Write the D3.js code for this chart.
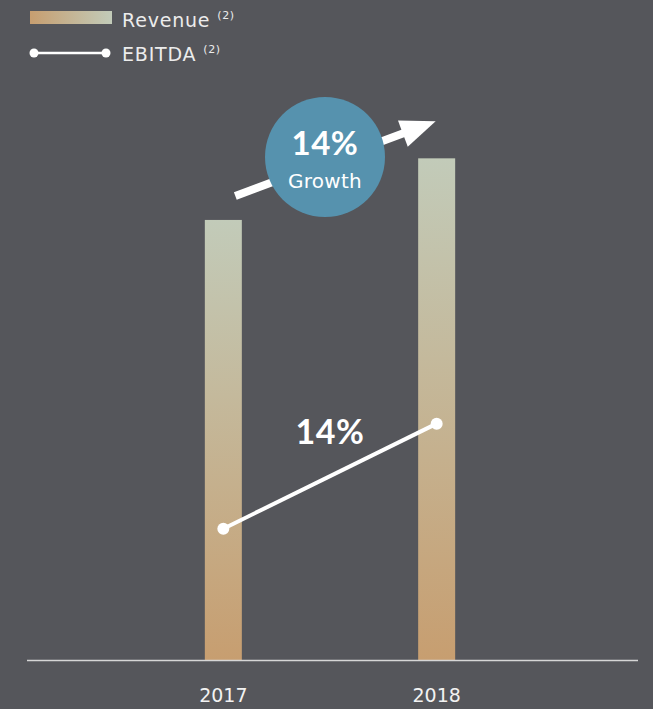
<!DOCTYPE html>
<html>
<head>
<meta charset="utf-8">
<script src="https://cdn.jsdelivr.net/npm/d3@7"></script>
<style>
  html, body { margin: 0; padding: 0; background: #55565b; }
  svg { display: block; }
  text { font-family: "DejaVu Sans", sans-serif; }
  text.big { font-family: "Lato", "DejaVu Sans", sans-serif; font-weight: bold; }
</style>
</head>
<body>
<div id="chart"></div>
<script>
// Revenue vs EBITDA, 2017-2018 (indexed values, 2017 = 100)

var years = ["2017", "2018"];
var revenue = [100, 114];
var ebitda = [100, 114];
var growthLabel = "14%";
var growthSub = "Growth";
var ebitdaLabel = "14%";

var W = 653, H = 709;
var margin = { top: 80, left: 27, right: 15, bottom: 49 };
var height = H - margin.top - margin.bottom;   // baseline at 660

var svg = d3.select("#chart").append("svg")
    .attr("width", W)
    .attr("height", H);

// gradients
var defs = svg.append("defs");
var vg = defs.append("linearGradient")
    .attr("id", "barGrad")
    .attr("x1", 0).attr("y1", 0).attr("x2", 0).attr("y2", 1);
vg.append("stop").attr("offset", "0%").attr("stop-color", "#c2cbb9");
vg.append("stop").attr("offset", "100%").attr("stop-color", "#c79e70");

var hg = defs.append("linearGradient")
    .attr("id", "legGrad")
    .attr("x1", 0).attr("y1", 0).attr("x2", 1).attr("y2", 0);
hg.append("stop").attr("offset", "0%").attr("stop-color", "#c79e70");
hg.append("stop").attr("offset", "100%").attr("stop-color", "#c2cbb9");

var x = d3.scalePoint()
    .domain(years)
    .range([10, 650])
    .padding(1);

var barW = 37;

var y = d3.scaleLinear()
    .domain([0, 131.8])
    .range([margin.top + height, margin.top]);

// EBITDA on its own axis
var y2 = d3.scaleLinear()
    .domain([82.5, 159.8])
    .range([margin.top + height, margin.top]);

// bars
svg.selectAll(".bar")
  .data(revenue)
  .enter().append("rect")
    .attr("class", "bar")
    .attr("x", function(d, i) { return x(years[i]) - barW / 2; })
    .attr("y", function(d) { return y(d); })
    .attr("width", barW)
    .attr("height", function(d) { return y(0) - y(d); })
    .style("fill", "url(#barGrad)");

// baseline
svg.append("line")
    .attr("x1", 27).attr("x2", 638)
    .attr("y1", y(0) + 0.5).attr("y2", y(0) + 0.5)
    .attr("stroke", "#d6d6d6")
    .attr("stroke-width", 1.5);

// x labels
svg.selectAll(".xlab")
  .data(years)
  .enter().append("text")
    .attr("class", "xlab")
    .attr("x", function(d) { return x(d); })
    .attr("y", 702)
    .attr("text-anchor", "middle")
    .style("font-size", "19px")
    .style("fill", "#f2f2f2")
    .text(function(d) { return d; });

// EBITDA line
var line = d3.line()
    .x(function(d, i) { return x(years[i]); })
    .y(function(d) { return y2(d); });

svg.append("path")
    .datum(ebitda)
    .attr("d", line)
    .attr("fill", "none")
    .attr("stroke", "#ffffff")
    .attr("stroke-width", 4);

svg.selectAll(".dot")
  .data(ebitda)
  .enter().append("circle")
    .attr("cx", function(d, i) { return x(years[i]); })
    .attr("cy", function(d) { return y2(d); })
    .attr("r", 6)
    .style("fill", "#ffffff");

svg.append("text")
    .attr("class", "big")
    .attr("x", (x(years[0]) + x(years[1])) / 2)
    .attr("y", 444)
    .attr("text-anchor", "middle")
    .style("font-size", "34px")
    .style("letter-spacing", "0.5px")
    .style("fill", "#ffffff")
    .text(ebitdaLabel);

// growth arrow (behind the bubble)
var tip = [x(years[1]) - 1, y(revenue[1]) - 37];
var tail = [x(years[0]) + 12, y(revenue[0]) - 24];
var ang = Math.atan2(tip[1] - tail[1], tip[0] - tail[0]);
var headLen = 35, headHalf = 14;
var bx = tip[0] - headLen * Math.cos(ang), by = tip[1] - headLen * Math.sin(ang);
var px = -Math.sin(ang), py = Math.cos(ang);

svg.append("line")
    .attr("x1", tail[0]).attr("y1", tail[1])
    .attr("x2", bx + 2 * Math.cos(ang)).attr("y2", by + 2 * Math.sin(ang))
    .attr("stroke", "#ffffff")
    .attr("stroke-width", 8);

svg.append("path")
    .attr("d", "M" + tip[0] + "," + tip[1] +
               "L" + (bx + px * headHalf) + "," + (by + py * headHalf) +
               "L" + (bx - px * headHalf) + "," + (by - py * headHalf) + "Z")
    .style("fill", "#ffffff");

// bubble
var cx = 325, cy = 157;
svg.append("circle")
    .attr("cx", cx).attr("cy", cy).attr("r", 60)
    .style("fill", "#5692ae");

svg.append("text")
    .attr("class", "big")
    .attr("x", cx).attr("y", 155)
    .attr("text-anchor", "middle")
    .style("font-size", "33px")
    .style("letter-spacing", "0.5px")
    .style("fill", "#ffffff")
    .text(growthLabel);

svg.append("text")
    .attr("x", cx).attr("y", 188)
    .attr("text-anchor", "middle")
    .style("font-size", "20px")
    .style("letter-spacing", "0.3px")
    .style("fill", "#ffffff")
    .text(growthSub);

// legend
var legend = svg.append("g").attr("class", "legend");

legend.append("rect")
    .attr("x", 30).attr("y", 11)
    .attr("width", 82).attr("height", 13)
    .style("fill", "url(#legGrad)");

legend.append("line")
    .attr("x1", 34).attr("x2", 106)
    .attr("y1", 53).attr("y2", 53)
    .attr("stroke", "#ffffff").attr("stroke-width", 2.5);

legend.selectAll(".ldot")
  .data([34, 106])
  .enter().append("circle")
    .attr("cx", function(d) { return d; })
    .attr("cy", 53)
    .attr("r", 4.5)
    .style("fill", "#ffffff");

var legItems = [{ label: "Revenue", y: 27 }, { label: "EBITDA", y: 61 }];
legItems.forEach(function(d) {
  var t = legend.append("text")
      .attr("x", 122).attr("y", d.y)
      .style("font-size", "19px")
      .style("letter-spacing", "0.8px")
      .style("fill", "#ececec");
  t.append("tspan").text(d.label);
  t.append("tspan")
      .attr("dx", 7)
      .attr("dy", -8)
      .style("font-size", "11px")
      .style("letter-spacing", "0.5px")
      .text("(2)");
});
</script>
</body>
</html>
